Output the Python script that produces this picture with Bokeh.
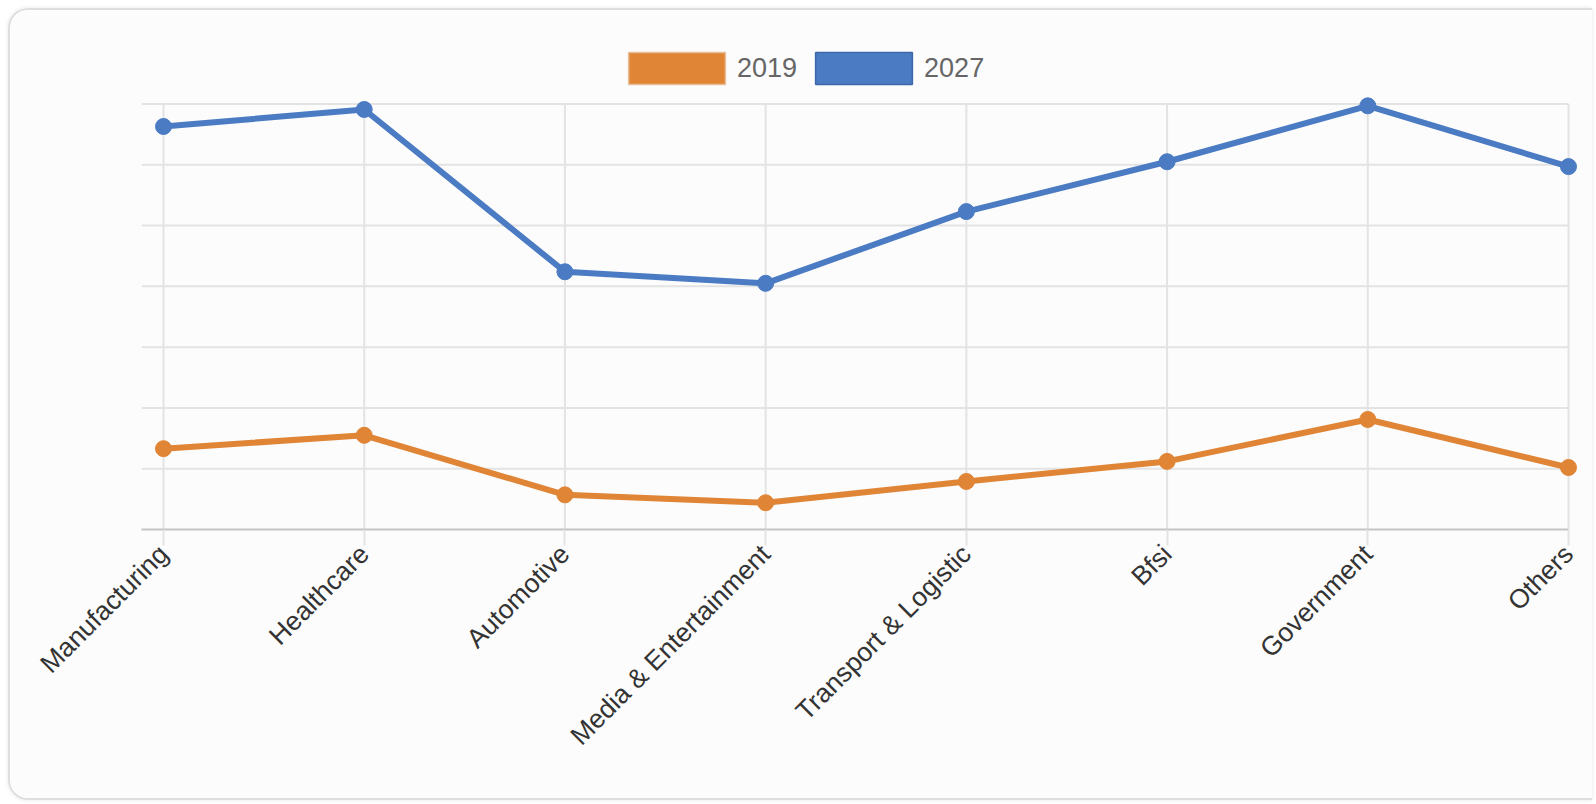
import math
from bokeh.plotting import figure
from bokeh.models import Range1d, FixedTicker, Legend, LegendItem
from bokeh.embed import file_html
from bokeh.resources import INLINE

categories = ["Manufacturing", "Healthcare", "Automotive", "Media & Entertainment",
              "Transport & Logistic", "Bfsi", "Government", "Others"]
values_2019 = [1.33, 1.55, 0.57, 0.44, 0.79, 1.12, 1.81, 1.02]
values_2027 = [6.63, 6.91, 4.24, 4.05, 5.23, 6.05, 6.97, 5.97]
y_ticks = [0, 1, 2, 3, 4, 5, 6, 7]

ORANGE = "#E08536"
BLUE = "#4A7BC3"
GRID = "#e3e3e3"
NAN = float("nan")

xs = list(range(len(categories)))
x_lo = -22 / 200.7
x_hi = xs[-1] + 10 / 200.7
y_hi = y_ticks[-1] * (529 - 40) / (529 - 103.5)

p = figure(width=1584, height=792, output_backend="svg", toolbar_location=None,
           x_range=Range1d(x_lo, x_hi), y_range=Range1d(0, y_hi),
           y_axis_location=None, min_border_left=131, min_border_right=16,
           min_border_top=30, min_border_bottom=273)
p.background_fill_color = "#fcfcfc"
p.border_fill_color = "#fcfcfc"
p.outline_line_color = None
p.xgrid.visible = False
p.ygrid.visible = False
p.styles = {
    "margin-left": "8px",
    "margin-top": "8px",
    "border-top": "2px solid #dedede",
    "border-left": "2px solid #dedede",
    "border-bottom": "2px solid #dedede",
    "border-radius": "20px 0 0 20px",
    "box-shadow": "0 0 4px rgba(0,0,0,0.10)",
    "overflow": "hidden",
}

# grid lines
p.segment(x0=xs, y0=[y_ticks[0]] * len(xs), x1=xs, y1=[y_ticks[-1]] * len(xs),
          line_color=GRID, line_width=2)
p.segment(x0=[x_lo] * (len(y_ticks) - 1), y0=y_ticks[1:], x1=[xs[-1]] * (len(y_ticks) - 1),
          y1=y_ticks[1:], line_color=GRID, line_width=2)

# series
p.line(xs, values_2019, line_color=ORANGE, line_width=6)
p.scatter(xs, values_2019, size=16, fill_color=ORANGE, line_color=ORANGE)
p.line(xs, values_2027, line_color=BLUE, line_width=6)
p.scatter(xs, values_2027, size=16, fill_color=BLUE, line_color=BLUE)

# legend swatches (renderers with no drawable rows, only used for the legend boxes)
q19 = p.quad(left=[NAN], right=[NAN], top=[NAN], bottom=[NAN],
             fill_color=ORANGE, line_color="#e9bf9a", line_width=1.5)
q27 = p.quad(left=[NAN], right=[NAN], top=[NAN], bottom=[NAN],
             fill_color=BLUE, line_color="#3d68a8", line_width=1.5)
legend = Legend(items=[LegendItem(label="2019", renderers=[q19]),
                       LegendItem(label="2027", renderers=[q27])],
                orientation="horizontal", location=(475, 441),
                glyph_width=121, glyph_height=40, label_standoff=0, spacing=6,
                padding=0, margin=0, border_line_color=None, background_fill_alpha=0,
                label_text_color="#666666", label_text_font="Liberation Sans",
                label_text_font_size="27px")
p.add_layout(legend, "center")

ax = p.xaxis[0]
ax.ticker = FixedTicker(ticks=xs)
ax.major_label_overrides = {i: c for i, c in zip(xs, categories)}
ax.major_label_orientation = math.pi / 4
ax.major_label_text_font = "Liberation Sans"
ax.major_label_text_font_size = "26.5px"
ax.major_label_text_color = "#333333"
ax.major_label_standoff = 4
ax.major_tick_in = 0
ax.major_tick_out = 16
ax.major_tick_line_color = GRID
ax.major_tick_line_width = 2
ax.minor_tick_line_color = None
ax.axis_line_color = "#c4c4c4"
ax.axis_line_width = 2
ax.bounds = (x_lo, xs[-1])

open("out.html", "w").write(file_html(p, INLINE))
